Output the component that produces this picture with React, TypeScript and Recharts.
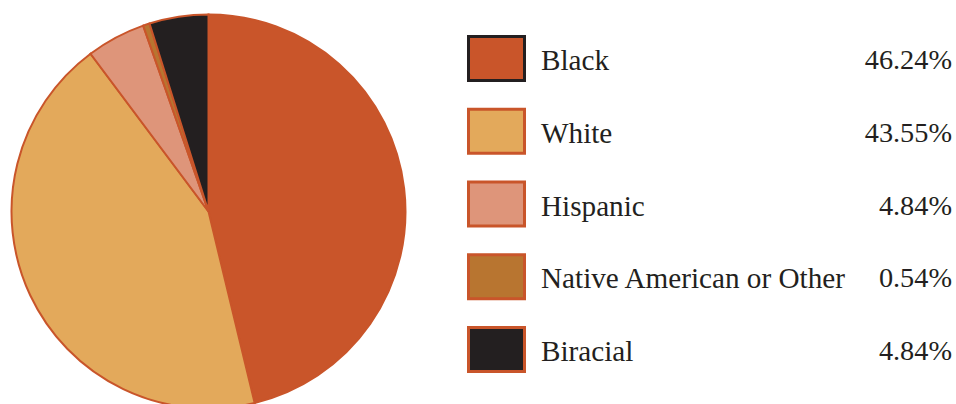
import { PieChart, Pie, Cell, Legend } from "recharts";

const groups = ["Black", "White", "Hispanic", "Native American or Other", "Biracial"];
const shares = [46.24, 43.55, 4.84, 0.54, 4.84];
const fills = ["#c9552a", "#e3a95b", "#de957a", "#b87530", "#231f20"];
const boxBorders = ["#231f20", "#c9552a", "#c9552a", "#c9552a", "#c9552a"];

const data = groups.map((name, i) => ({ name, value: shares[i] }));

const nameStyle = { fontFamily: "Liberation Serif, serif", fontSize: 29.2, fill: "#231f20" };
const pctStyle = { fontFamily: "Liberation Serif, serif", fontSize: 28.3, fill: "#231f20" };

function LegendBlock() {
  return (
    <svg width={956} height={404} style={{ display: "block" }}>
      {groups.map((g, i) => {
        const top = 35 + i * 72.75;
        return (
          <g key={g}>
            <rect x={468.5} y={top + 1.5} width={56} height={44} fill={fills[i]} stroke={boxBorders[i]} strokeWidth={3} />
            <text x={541} y={top + 35} style={nameStyle}>
              {g}
            </text>
            <text x={952} y={top + 34} style={pctStyle} textAnchor="end">
              {shares[i].toFixed(2)}%
            </text>
          </g>
        );
      })}
    </svg>
  );
}

export default function App() {
  return (
    <div style={{ position: "relative", width: 956, height: 404 }}>
      <style>{"body{margin:0;}"}</style>
      <PieChart width={956} height={404} margin={{ top: 0, right: 0, bottom: 0, left: 0 }}>
        <Pie
          data={data}
          dataKey="value"
          nameKey="name"
          cx={208.5}
          cy={211.5}
          outerRadius={197}
          startAngle={90}
          endAngle={-270}
          stroke="#c9552a"
          strokeWidth={2}
          isAnimationActive={false}
        >
          {data.map((d, i) => (
            <Cell key={d.name} fill={fills[i]} />
          ))}
        </Pie>
        <Legend
          content={() => <LegendBlock />}
          wrapperStyle={{ position: "absolute", left: 0, top: 0, width: 956, height: 404, pointerEvents: "none" }}
        />
      </PieChart>
    </div>
  );
}
